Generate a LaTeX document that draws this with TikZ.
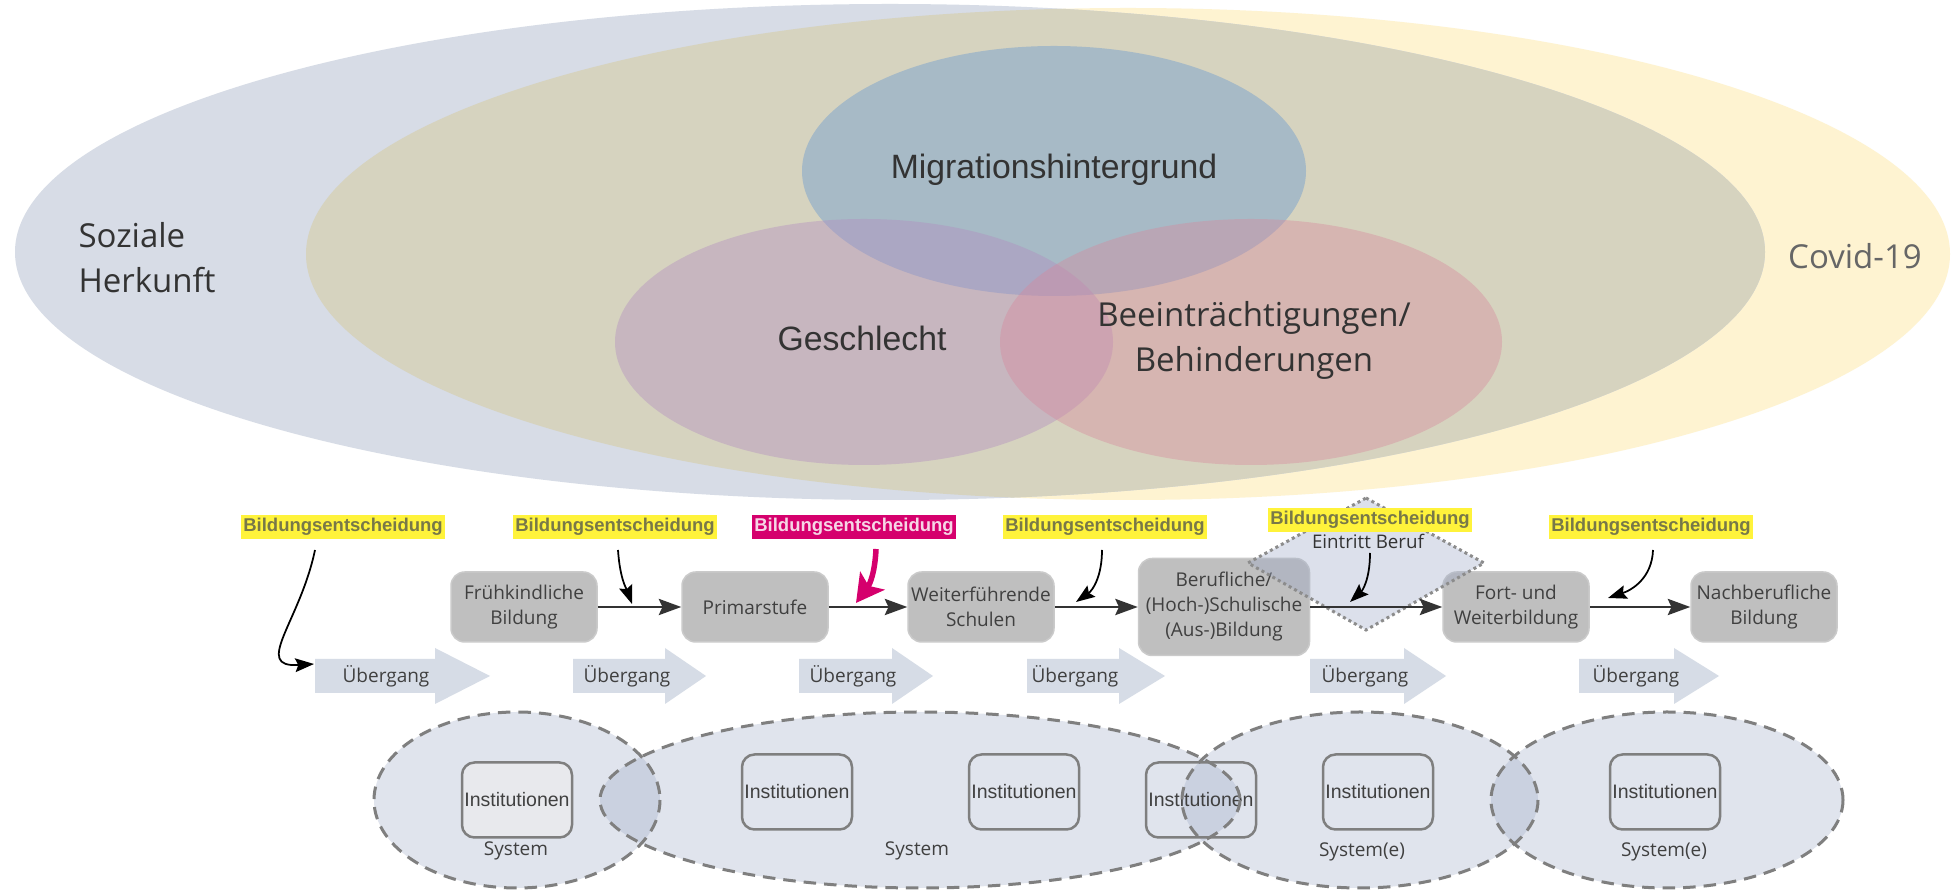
\documentclass[tikz,border=0pt]{standalone}
\usepackage{fontspec}
\setmainfont{Open Sans}
\newfontfamily\arialfont{Liberation Sans}
\usetikzlibrary{arrows.meta}
\definecolor{covfill}{HTML}{FEF3D1}
\definecolor{sozfill}{HTML}{D7DCE6}
\definecolor{olivefill}{HTML}{D6D3BF}
\definecolor{migfill}{HTML}{6E9CCF}
\definecolor{gesfill}{HTML}{B18BBF}
\definecolor{beefill}{HTML}{D6889C}
\definecolor{toptext}{HTML}{333333}
\definecolor{covtext}{HTML}{666666}
\definecolor{procfill}{HTML}{BFBFBF}
\definecolor{procborder}{HTML}{CACACA}
\definecolor{proctext}{HTML}{404040}
\definecolor{uebfill}{HTML}{D6DCE6}
\definecolor{sysfill}{HTML}{9CA8C6}
\definecolor{sysline}{HTML}{7F7F7F}
\definecolor{instborder}{HTML}{7F7F7F}
\definecolor{inst1fill}{HTML}{E8E9ED}
\definecolor{decyellow}{HTML}{FFF33B}
\definecolor{dectext}{HTML}{787848}
\definecolor{decmag}{HTML}{D5006D}
\definecolor{decmagtext}{HTML}{F6D6E6}
\definecolor{diafill}{HTML}{9CA8C6}
\definecolor{dialine}{HTML}{8C8C8C}
\definecolor{flowline}{HTML}{333333}
\tikzset{
  toplabel/.style={font=\fontsize{13.2}{18}\selectfont, text=toptext, inner sep=0pt},
  procbox/.style={rounded corners=5.5pt, fill=procfill, draw=procborder, line width=0.6pt,
    font=\fontsize{7.6}{10}\selectfont, text=proctext, align=center,
    minimum width=58.4pt, minimum height=28pt, inner sep=0pt},
  instbox/.style={rounded corners=5pt, draw=instborder, line width=1pt,
    minimum width=44pt, minimum height=30pt, font=\arialfont\fontsize{7.8}{9}\selectfont,
    text=proctext, inner sep=0pt},
  declabel/.style={fill=decyellow, text=dectext, font=\arialfont\bfseries\fontsize{7.4}{8}\selectfont,
    inner xsep=1pt, inner ysep=1.3pt},
  flowarrow/.style={draw=flowline, line width=0.9pt, -{Stealth[length=9pt,width=6.5pt,inset=1.5pt]}},
  decarrow/.style={draw=black, line width=0.7pt, -{Stealth[length=7.5pt,width=5.5pt,inset=1.2pt]}},
  uebshape/.style={fill=uebfill},
  uebtext/.style={font=\fontsize{7.6}{9}\selectfont, text=proctext, inner sep=0pt},
  sysoval/.style={fill=sysfill, fill opacity=0.31},
  sysedge/.style={draw=sysline, line width=1.2pt, dash pattern=on 5pt off 3.2pt},
  systext/.style={font=\fontsize{7.6}{9}\selectfont, text=proctext, inner sep=0pt}
}
\newcommand{\UebShape}[3]{\fill[uebshape] (#1,659) -- (#2,659) -- (#2,648) -- (#3,676) -- (#2,704) -- (#2,693) -- (#1,693) -- cycle;}
\begin{document}
\begin{tikzpicture}[x=0.4pt,y=-0.4pt]
\fill[white] (0,0) rectangle (1955,890);
\useasboundingbox (0,0) rectangle (1955,890);

% ---- outer ellipses ----
\fill[covfill] (1128,254) ellipse [x radius=822, y radius=246];
\fill[sozfill] (890,252) ellipse [x radius=875, y radius=248];
\begin{scope}
  \clip (890,252) ellipse [x radius=875, y radius=248];
  \fill[olivefill] (1128,254) ellipse [x radius=822, y radius=246];
\end{scope}

% ---- inner circles ----
\fill[migfill, fill opacity=0.45] (1054,171) ellipse [x radius=252, y radius=125];
\fill[gesfill, fill opacity=0.4] (864,342) ellipse [x radius=249, y radius=123];
\fill[beefill, fill opacity=0.4] (1251,342) ellipse [x radius=251, y radius=123];

% ---- top texts ----
\node[toplabel, anchor=west, align=left] (soz) at (78,258) {Soziale\\Herkunft};
\node[toplabel, font=\arialfont\fontsize{13.5}{16}\selectfont] (mig) at (1054,170) {Migrationshintergrund};
\node[toplabel, font=\arialfont\fontsize{13.5}{16}\selectfont] (ges) at (862,338) {Geschlecht};
\node[toplabel, align=center, font=\fontsize{13.2}{18}\selectfont] (bee) at (1254,340) {Beeinträchtigungen/\\Behinderungen};
\node[toplabel, text=covtext] (cov) at (1855,256) {Covid-19};

% ---- systems (ovals) ----
\fill[sysoval] (517,800) ellipse [x radius=143, y radius=88];
\fill[sysoval] (920,800) ellipse [x radius=320, y radius=88];
\fill[sysoval] (1360,800) ellipse [x radius=178, y radius=88];
\fill[sysoval] (1667,800) ellipse [x radius=176, y radius=88];

\node[instbox, fill=inst1fill] (i1) at (517,800) {Institutionen};
\node[instbox] (i2) at (797,792) {Institutionen};
\node[instbox] (i3) at (1024,792) {Institutionen};
\node[instbox] (i4) at (1201,800) {Institutionen};
\node[instbox] (i5) at (1378,792) {Institutionen};
\node[instbox] (i6) at (1665,792) {Institutionen};

\draw[sysedge] (517,800) ellipse [x radius=143, y radius=88];
\draw[sysedge] (920,800) ellipse [x radius=320, y radius=88];
\draw[sysedge] (1360,800) ellipse [x radius=178, y radius=88];
\draw[sysedge] (1667,800) ellipse [x radius=176, y radius=88];

\node[systext] (s1) at (516,851) {System};
\node[systext] (s2) at (917,851) {System};
\node[systext] (s3) at (1362,852) {System(e)};
\node[systext] (s4) at (1664,852) {System(e)};

% ---- Uebergang arrows ----
\UebShape{315}{435}{490}
\UebShape{573}{665}{706}
\UebShape{799}{892}{933}
\UebShape{1027}{1119}{1165}
\UebShape{1310}{1404}{1446}
\UebShape{1579}{1674}{1719}
\node[uebtext] (u1) at (386,676) {Übergang};
\node[uebtext] (u2) at (627,676) {Übergang};
\node[uebtext] (u3) at (853,676) {Übergang};
\node[uebtext] (u4) at (1075,676) {Übergang};
\node[uebtext] (u5) at (1365,676) {Übergang};
\node[uebtext] (u6) at (1636,676) {Übergang};
\coordinate (u1in) at (314,664);

% ---- process boxes ----
\node[procbox] (p1) at (524,607) {Frühkindliche\\Bildung};
\node[procbox] (p2) at (755,607) {Primarstufe};
\node[procbox] (p3) at (981,607) {Weiterführende\\Schulen};
\node[procbox, minimum width=68.4pt, minimum height=38.8pt] (p4) at (1224,607) {Berufliche/\\(Hoch-)Schulische\\(Aus-)Bildung};
\node[procbox] (p5) at (1516,607) {Fort- und\\Weiterbildung};
\node[procbox] (p6) at (1764,607) {Nachberufliche\\Bildung};

% ---- diamond (Eintritt Beruf) ----
\filldraw[fill=diafill, fill opacity=0.35, draw=dialine, line width=1.2pt, dash pattern=on 1.2pt off 1.3pt]
  (1366,498) -- (1484,563) -- (1366,630) -- (1248,563) -- cycle;
\node[font=\fontsize{7.5}{9}\selectfont, text=toptext, inner sep=0pt] (eb) at (1368,541) {Eintritt Beruf};

% ---- flow arrows ----
\draw[flowarrow] (p1) -- (p2);
\draw[flowarrow] (p2) -- (p3);
\draw[flowarrow] (p3) -- (p4);
\draw[flowarrow] (p4) -- (p5);
\draw[flowarrow] (p5) -- (p6);

% ---- decision labels ----
\node[declabel] (d1) at (343,527) {Bildungsentscheidung};
\node[declabel] (d2) at (615,527) {Bildungsentscheidung};
\node[declabel, fill=decmag, text=decmagtext] (d3) at (854,527) {Bildungsentscheidung};
\node[declabel] (d4) at (1105,527) {Bildungsentscheidung};
\node[declabel] (d5) at (1370,520) {Bildungsentscheidung};
\node[declabel] (d6) at (1651,527) {Bildungsentscheidung};

% ---- decision arrows ----
\coordinate (d1s) at (315,550);
\coordinate (d2s) at (618,550);
\coordinate (d2t) at (632,604);
\coordinate (d3s) at (876,549);
\coordinate (d3t) at (856,603);
\coordinate (d4s) at (1102,550);
\coordinate (d4t) at (1076,602);
\coordinate (d5s) at (1370,553);
\coordinate (d5t) at (1350,602);
\coordinate (d6s) at (1653,550);
\coordinate (d6t) at (1608,598);
\draw[decarrow] (d1s) .. controls (300,622) and (252,668) .. (u1in);
\draw[decarrow] (d2s) .. controls (620,580) and (627,590) .. (d2t);
\draw[decmag, line width=2.2pt, -{Stealth[length=11pt,width=12pt,inset=2.5pt]}] (d3s) .. controls (875,572) and (870,584) .. (d3t);
\draw[decarrow] (d4s) .. controls (1102,576) and (1093,590) .. (d4t);
\draw[decarrow] (d5s) .. controls (1370,580) and (1362,591) .. (d5t);
\draw[decarrow] (d6s) .. controls (1652,578) and (1632,590) .. (d6t);
\end{tikzpicture}
\end{document}
